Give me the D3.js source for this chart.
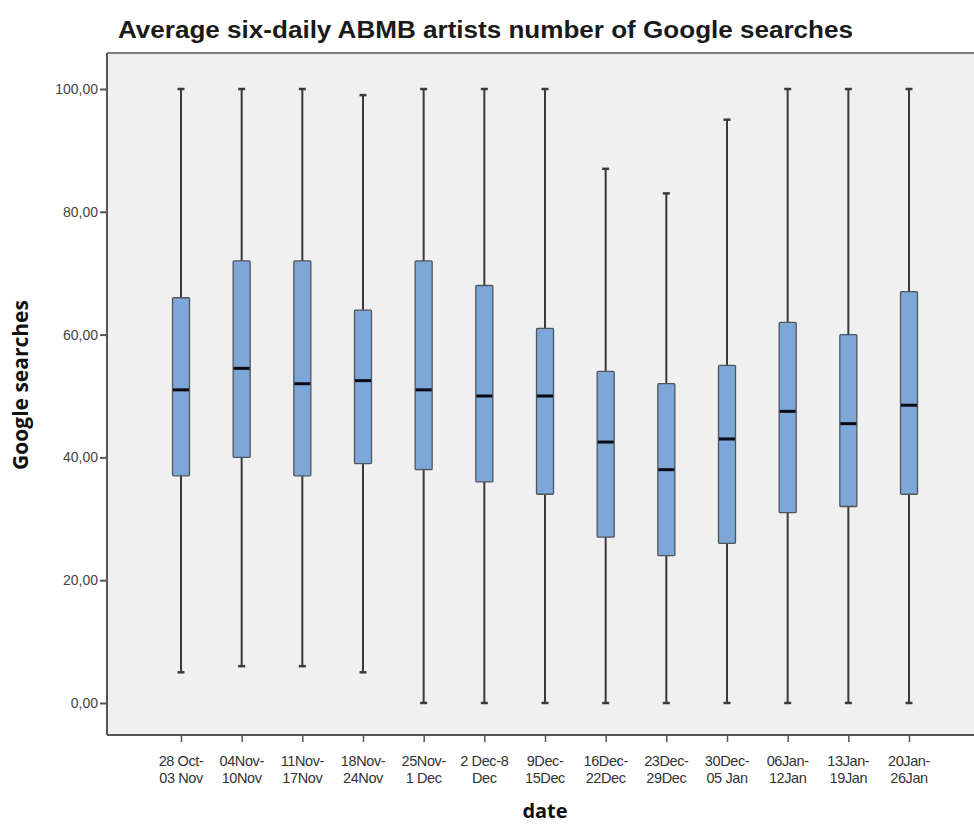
<!DOCTYPE html>
<html>
<head>
<meta charset="utf-8">
<script src="https://cdn.jsdelivr.net/npm/d3@7"></script>
<style>
  html, body { margin: 0; padding: 0; background: #ffffff; }
  svg { display: block; }
</style>
</head>
<body>
<svg id="chart" width="974" height="826"></svg>
<script>
// Week ranges (two-line tick labels)
const categories = [
  "28 Oct-03 Nov", "04Nov-10Nov", "11Nov-17Nov", "18Nov-24Nov", "25Nov-1 Dec",
  "2 Dec-8 Dec", "9Dec-15Dec", "16Dec-22Dec", "23Dec-29Dec", "30Dec-05 Jan",
  "06Jan-12Jan", "13Jan-19Jan", "20Jan-26Jan"
];
const tickLine1 = ["28 Oct-", "04Nov-", "11Nov-", "18Nov-", "25Nov-", "2 Dec-8", "9Dec-",
  "16Dec-", "23Dec-", "30Dec-", "06Jan-", "13Jan-", "20Jan-"];
const tickLine2 = ["03 Nov", "10Nov", "17Nov", "24Nov", "1 Dec", "Dec", "15Dec",
  "22Dec", "29Dec", "05 Jan", "12Jan", "19Jan", "26Jan"];

// Five-number summaries per week
const minValues    = [5, 6, 6, 5, 0, 0, 0, 0, 0, 0, 0, 0, 0];
const q1Values     = [37, 40, 37, 39, 38, 36, 34, 27, 24, 26, 31, 32, 34];
const medianValues = [51, 54.5, 52, 52.5, 51, 50, 50, 42.5, 38, 43, 47.5, 45.5, 48.5];
const q3Values     = [66, 72, 72, 64, 72, 68, 61, 54, 52, 55, 62, 60, 67];
const maxValues    = [100, 100, 100, 99, 100, 100, 100, 87, 83, 95, 100, 100, 100];

const yTicks = [0, 20, 40, 60, 80, 100];

const svg = d3.select("#chart");

// Plot frame
const frame = { left: 107, top: 53, right: 990, bottom: 735 };

svg.append("rect")
  .attr("x", frame.left).attr("y", frame.top)
  .attr("width", frame.right - frame.left).attr("height", frame.bottom - frame.top)
  .attr("fill", "#f0f0f0");

const x = d3.scalePoint().domain(categories).range([181, 909]);
const y = d3.scaleLinear().domain([0, 100]).range([703, 89]);

const boxW = 17;
const capW = 7;
const lineColor = "#3a3a3a";

const data = categories.map((c, i) => ({
  cat: c, min: minValues[i], q1: q1Values[i], med: medianValues[i], q3: q3Values[i], max: maxValues[i]
}));

const g = svg.append("g");
const box = g.selectAll("g.box").data(data).join("g").attr("class", "box");

// Whiskers
box.append("line")
  .attr("x1", d => x(d.cat)).attr("x2", d => x(d.cat))
  .attr("y1", d => y(d.max)).attr("y2", d => y(d.min))
  .attr("stroke", lineColor).attr("stroke-width", 2);
box.append("line")
  .attr("x1", d => x(d.cat) - capW / 2).attr("x2", d => x(d.cat) + capW / 2)
  .attr("y1", d => y(d.max)).attr("y2", d => y(d.max))
  .attr("stroke", lineColor).attr("stroke-width", 2.5);
box.append("line")
  .attr("x1", d => x(d.cat) - capW / 2).attr("x2", d => x(d.cat) + capW / 2)
  .attr("y1", d => y(d.min)).attr("y2", d => y(d.min))
  .attr("stroke", lineColor).attr("stroke-width", 2.5);

// Boxes
box.append("rect")
  .attr("x", d => x(d.cat) - boxW / 2)
  .attr("y", d => y(d.q3))
  .attr("width", boxW)
  .attr("height", d => y(d.q1) - y(d.q3))
  .attr("rx", 1)
  .attr("fill", "#7da7d6")
  .attr("stroke", "#50555c").attr("stroke-width", 1.3);

// Medians
box.append("line")
  .attr("x1", d => x(d.cat) - boxW / 2 + 0.5).attr("x2", d => x(d.cat) + boxW / 2 - 0.5)
  .attr("y1", d => y(d.med)).attr("y2", d => y(d.med))
  .attr("stroke", "#0a0a14").attr("stroke-width", 3);

// Frame lines
svg.append("line")
  .attr("x1", frame.left).attr("x2", frame.right)
  .attr("y1", frame.top).attr("y2", frame.top)
  .attr("stroke", "#555").attr("stroke-width", 1.5);
svg.append("line")
  .attr("x1", frame.left).attr("x2", frame.right)
  .attr("y1", frame.bottom).attr("y2", frame.bottom)
  .attr("stroke", "#555").attr("stroke-width", 2);
svg.append("line")
  .attr("x1", frame.left).attr("x2", frame.left)
  .attr("y1", frame.top).attr("y2", frame.bottom)
  .attr("stroke", "#555").attr("stroke-width", 2);

// Y axis
const yAxis = d3.axisLeft(y)
  .tickValues(yTicks)
  .tickSize(6)
  .tickPadding(2)
  .tickFormat(d => d.toFixed(2).replace(".", ","));
const yg = svg.append("g").attr("transform", `translate(${frame.left - 1},0)`).call(yAxis);
yg.select(".domain").remove();
yg.selectAll(".tick line").attr("stroke", "#555").attr("stroke-width", 2);
yg.selectAll(".tick text")
  .attr("fill", "#444")
  .style("font-family", "'Liberation Sans', Arial, sans-serif")
  .style("font-size", "14px");

// X axis
const xAxis = d3.axisBottom(x).tickSize(6).tickFormat("");
const xg = svg.append("g").attr("transform", `translate(0,${frame.bottom + 1})`).call(xAxis);
xg.select(".domain").remove();
xg.selectAll(".tick line").attr("stroke", "#555").attr("stroke-width", 1.5);

const xl = svg.append("g")
  .style("font-family", "'Liberation Sans', Arial, sans-serif")
  .style("font-size", "14.5px")
  .style("letter-spacing", "-0.4px")
  .attr("fill", "#333")
  .attr("text-anchor", "middle");
categories.forEach((c, i) => {
  const t = xl.append("text").attr("x", x(c)).attr("y", 766);
  t.append("tspan").attr("x", x(c)).attr("dy", 0).text(tickLine1[i]);
  t.append("tspan").attr("x", x(c)).attr("dy", 17).text(tickLine2[i]);
});

// Title
svg.append("text")
  .attr("x", 118).attr("y", 38)
  .style("font-family", "'Liberation Sans', Arial, sans-serif")
  .style("font-size", "23px")
  .style("font-weight", "bold")
  .attr("fill", "#1a1a1a")
  .attr("textLength", 735)
  .attr("lengthAdjust", "spacingAndGlyphs")
  .text("Average six-daily ABMB artists number of Google searches");

// Axis titles
svg.append("text")
  .attr("transform", `translate(28,385) rotate(-90)`)
  .attr("text-anchor", "middle")
  .style("font-family", "'Open Sans', 'DejaVu Sans', sans-serif")
  .style("font-size", "21px")
  .style("font-weight", "bold")
  .attr("fill", "#111")
  .text("Google searches");

svg.append("text")
  .attr("x", 545).attr("y", 818)
  .attr("text-anchor", "middle")
  .style("font-family", "'Open Sans', 'DejaVu Sans', sans-serif")
  .style("font-size", "20px")
  .style("font-weight", "bold")
  .attr("fill", "#111")
  .text("date");
</script>
</body>
</html>
